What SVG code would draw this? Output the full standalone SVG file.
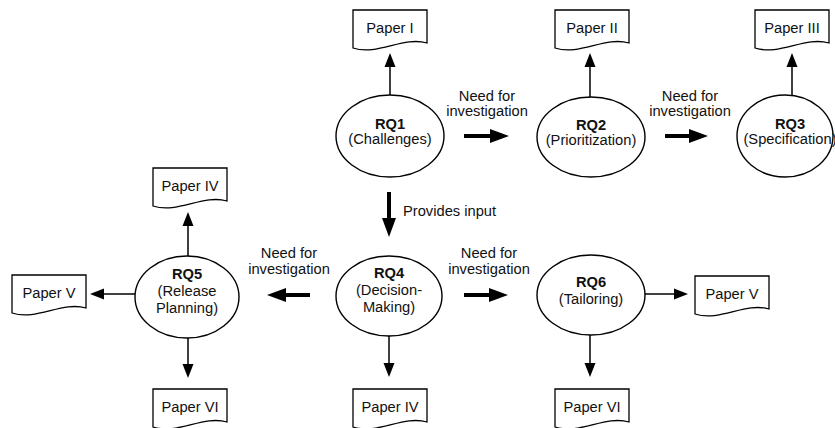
<svg xmlns="http://www.w3.org/2000/svg" xmlns:xlink="http://www.w3.org/1999/xlink" width="835" height="428" viewBox="0 0 835 428">
  <style>
    .bg { fill: #ffffff; }
    .rq { fill: #ffffff; stroke: #000000; stroke-width: 1.4; }
    .doc { fill: #ffffff; stroke: #000000; stroke-width: 1.3; }
    text { font-family: "Liberation Sans", Arial, sans-serif; font-size: 14.7px; fill: #111111; text-anchor: middle; }
    .b { font-weight: bold; }
    .lbl { text-anchor: middle; }
    .thin { stroke: #000000; stroke-width: 1.5; fill: none; marker-end: url(#headThin); }
    .thick { stroke: #000000; stroke-width: 4; fill: none; marker-end: url(#headThick); }
  </style>
  <defs>
    <!-- arrowheads start at the end of the line and extend forward -->
    <marker id="headThin" markerUnits="userSpaceOnUse" markerWidth="14" markerHeight="12" refX="0" refY="6" orient="auto">
      <path d="M0,0.5 L14,6 L0,11.5 Z" fill="#000000"/>
    </marker>
    <marker id="headThick" markerUnits="userSpaceOnUse" markerWidth="19" markerHeight="15" refX="0" refY="7.5" orient="auto">
      <path d="M0,0.5 L19,7.5 L0,14.5 Z" fill="#000000"/>
    </marker>
    <!-- document shape with wavy bottom edge -->
    <path id="docShape" class="doc" d="M0,0 H74 V33 C50,26 25,46 0,38 Z"/>
  </defs>

  <rect class="bg" x="0" y="0" width="835" height="428"/>

  <!-- connectors -->
  <g id="connectors">
    <!-- upward to papers -->
    <line class="thin" x1="390" y1="95" x2="390" y2="67"/>
    <line class="thin" x1="590" y1="97" x2="590" y2="67"/>
    <line class="thin" x1="792" y1="96" x2="792" y2="67"/>
    <line class="thin" x1="188" y1="256" x2="188" y2="226"/>
    <!-- leftward / rightward to papers -->
    <line class="thin" x1="135" y1="294" x2="104" y2="294"/>
    <line class="thin" x1="645" y1="294" x2="674" y2="294"/>
    <!-- downward to papers -->
    <line class="thin" x1="188" y1="337" x2="188" y2="364"/>
    <line class="thin" x1="389" y1="336" x2="389" y2="363"/>
    <line class="thin" x1="590" y1="335" x2="590" y2="363"/>
    <!-- thick flow arrows -->
    <line class="thick" x1="464" y1="136" x2="490" y2="136"/>
    <line class="thick" x1="665" y1="136" x2="689" y2="136"/>
    <line class="thick" x1="389" y1="192" x2="389" y2="218"/>
    <line class="thick" x1="310" y1="295" x2="286" y2="295"/>
    <line class="thick" x1="464" y1="295" x2="489" y2="295"/>
    <!-- connector labels -->
    <text x="487" y="101">Need for</text>
    <text x="487" y="116">investigation</text>
    <text x="690" y="101">Need for</text>
    <text x="690" y="116">investigation</text>
    <text x="403" y="216" style="text-anchor:start">Provides input</text>
    <text x="289" y="258">Need for</text>
    <text x="289" y="274">investigation</text>
    <text x="489" y="258">Need for</text>
    <text x="489" y="274">investigation</text>
  </g>

  <!-- research questions -->
  <g id="rq1">
    <ellipse class="rq" cx="390" cy="136" rx="54" ry="41"/>
    <text class="b" x="390" y="129">RQ1</text>
    <text x="390" y="144">(Challenges)</text>
  </g>
  <g id="rq2">
    <ellipse class="rq" cx="591" cy="137" rx="54" ry="40"/>
    <text class="b" x="591" y="130">RQ2</text>
    <text x="591" y="145">(Prioritization)</text>
  </g>
  <g id="rq3">
    <ellipse class="rq" cx="785" cy="136" rx="48" ry="41"/>
    <text class="b" x="790" y="129">RQ3</text>
    <text x="790" y="144">(Specification)</text>
  </g>
  <g id="rq4">
    <ellipse class="rq" cx="389" cy="296" rx="53" ry="40"/>
    <text class="b" x="389" y="278">RQ4</text>
    <text x="389" y="295">(Decision-</text>
    <text x="389" y="312">Making)</text>
  </g>
  <g id="rq5">
    <ellipse class="rq" cx="187" cy="297" rx="52" ry="41"/>
    <text class="b" x="187" y="279">RQ5</text>
    <text x="187" y="296">(Release</text>
    <text x="187" y="313">Planning)</text>
  </g>
  <g id="rq6">
    <ellipse class="rq" cx="591" cy="295" rx="54" ry="40"/>
    <text class="b" x="591" y="287">RQ6</text>
    <text x="591" y="304">(Tailoring)</text>
  </g>

  <!-- papers -->
  <g id="paper-i">
    <use xlink:href="#docShape" x="353" y="10"/>
    <text x="390" y="33">Paper I</text>
  </g>
  <g id="paper-ii">
    <use xlink:href="#docShape" x="555" y="10"/>
    <text x="592" y="33">Paper II</text>
  </g>
  <g id="paper-iii">
    <use xlink:href="#docShape" x="755" y="10"/>
    <text x="792" y="33">Paper III</text>
  </g>
  <g id="paper-iv-top">
    <use xlink:href="#docShape" x="153" y="168"/>
    <text x="190" y="191">Paper IV</text>
  </g>
  <g id="paper-v-left">
    <use xlink:href="#docShape" x="12" y="275"/>
    <text x="49" y="298">Paper V</text>
  </g>
  <g id="paper-vi-left">
    <use xlink:href="#docShape" x="153" y="389"/>
    <text x="190" y="412">Paper VI</text>
  </g>
  <g id="paper-iv-bottom">
    <use xlink:href="#docShape" x="353" y="389"/>
    <text x="390" y="412">Paper IV</text>
  </g>
  <g id="paper-vi-right">
    <use xlink:href="#docShape" x="555" y="389"/>
    <text x="592" y="412">Paper VI</text>
  </g>
  <g id="paper-v-right">
    <use xlink:href="#docShape" x="695" y="276"/>
    <text x="732" y="299">Paper V</text>
  </g>
</svg>
